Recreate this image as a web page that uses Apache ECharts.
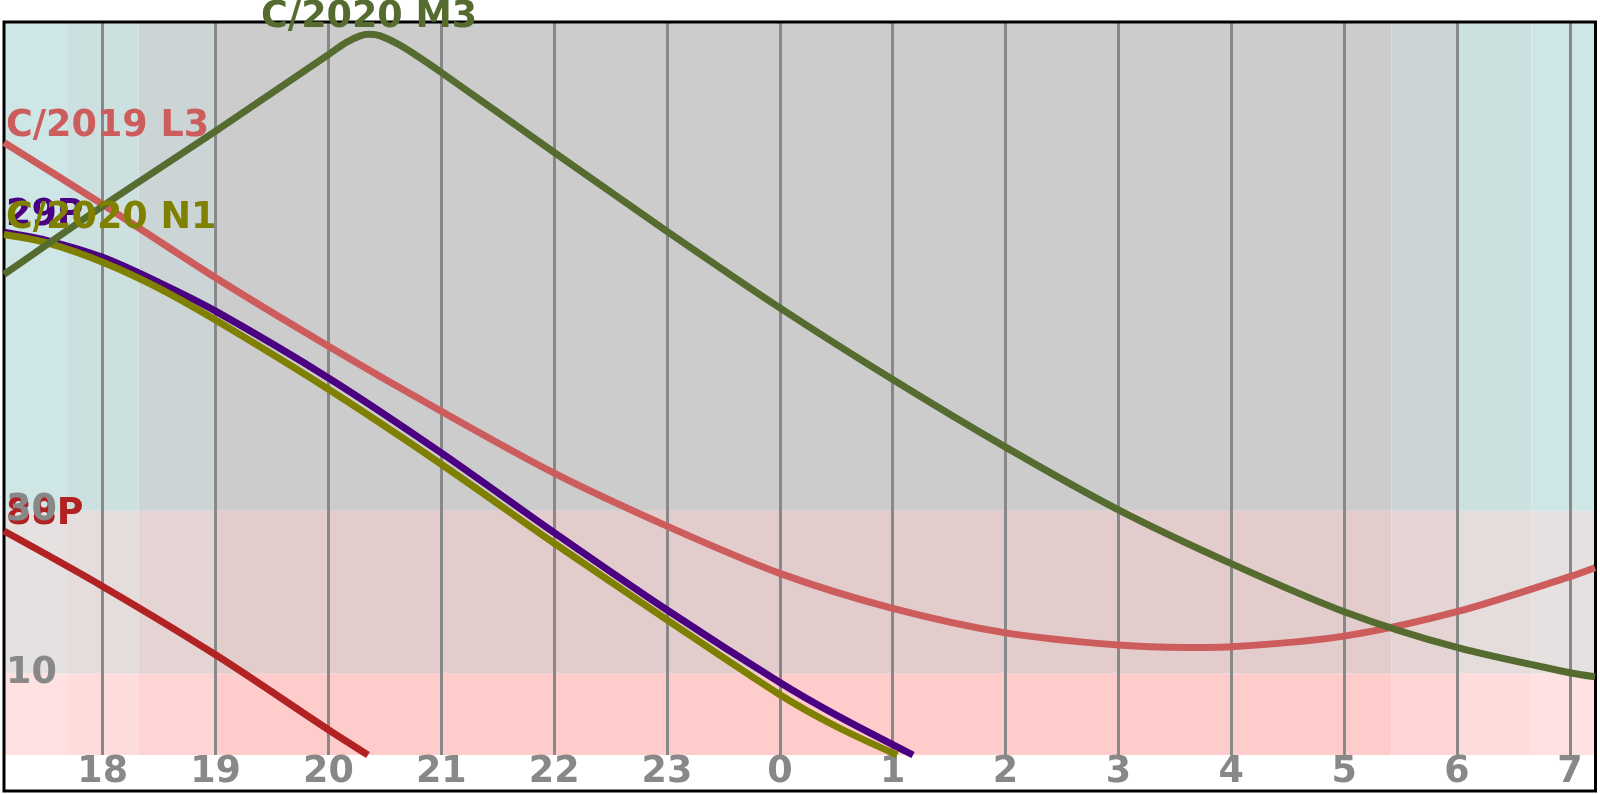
<!DOCTYPE html>
<html><head><meta charset="utf-8">
<script src="https://cdn.jsdelivr.net/npm/echarts@6/dist/echarts.min.js"></script>
<style>html,body{margin:0;padding:0;background:#fff}#c{width:1600px;height:794px}</style>
</head><body><div id="c"></div>
<script>
// ---- data ----
const hourTicks = [18,19,20,21,22,23,24,25,26,27,28,29,30,31];
const altTicks = [10, 30];
const altBands = [0, 10, 30, 90];
const twilightEdges = [17.125, 17.684, 18.316, 18.98, 29.42, 30.0, 30.66, 31.223];
const twilightLevel = [0, 1, 2, 3, 2, 1, 0];

const m3Hours = [17.125,18,19,20,20.16,20.28,20.36,20.46,20.64,21,22,23,24,25,26,27,28,29,30,31,31.223];
const m3Alt   = [59.0,67.4,76.6,86.0,87.5,88.3,88.5,88.3,87.1,83.8,74.0,64.3,54.9,46.1,37.8,30.1,23.5,17.6,13.2,10.1,9.6];

const l3Hours = [17.125,18,19,20,21,22,23,24,25,26,27,27.6,28,29,30,31,31.223];
const l3Alt   = [75.2,67.6,58.6,50.2,42.2,34.6,28.1,22.3,18.0,15.0,13.5,13.2,13.3,14.6,17.6,21.9,23.0];

const n1Hours = [17.125,17.5,18,18.5,19,20,21,22,23,24,24.5,25.04];
const n1Alt   = [63.9,62.9,60.5,57.3,53.4,44.9,35.7,26.0,16.6,7.4,3.5,0];

const p29Hours = [17.125,17.5,18,18.5,19,20,21,22,23,24,24.5,25.18];
const p29Alt   = [64.2,63.2,61.1,58.0,54.5,46.3,37.1,27.3,17.8,8.9,4.9,0];

const p88Hours = [17.125,18,19,20,20.35];
const p88Alt   = [27.5,20.7,12.3,3.1,0];

const cometNames = ['88P', '29P', 'C/2020 N1', 'C/2019 L3', 'C/2020 M3'];

// ---- styles ----
const FONT = 'DejaVu Sans';
const GRAY = '#888888';
const cometColors = ['#b22222', '#4b0082', '#808000', '#cd5c5c', '#556b2f'];
const cometHours = [p88Hours, p29Hours, n1Hours, l3Hours, m3Hours];
const cometAlt = [p88Alt, p29Alt, n1Alt, l3Alt, m3Alt];
// band colours [altitude band][twilight level]
const bandColors = [
  ['#ffe1e1', '#ffdcdc', '#ffd4d4', '#ffcccc'],
  ['#e6e1e1', '#e5dcdc', '#e4d4d4', '#e3cccc'],
  ['#cee6e6', '#cde0e0', '#ccd5d5', '#cccccc']
];

const areas = [];
for (let b = 0; b < altBands.length - 1; b++) {
  for (let s = 0; s < twilightEdges.length - 1; s++) {
    areas.push([
      {xAxis: twilightEdges[s], yAxis: altBands[b], itemStyle: {color: bandColors[b][twilightLevel[s]]}},
      {xAxis: twilightEdges[s + 1], yAxis: altBands[b + 1]}
    ]);
  }
}

const labelFont = {fontFamily: FONT, fontWeight: 'bold', fontSize: 36.5};

const series = cometNames.map((name, i) => {
  const h = cometHours[i], a = cometAlt[i];
  let maxI = 0;
  a.forEach((v, k) => { if (v > a[maxI]) maxI = k; });
  const data = h.map((x, k) => [x, a[k]]);
  const s = {
    name, type: 'line', data, smooth: 0.3, showSymbol: false, symbol: 'none',
    z: 2, clip: true,
    lineStyle: {color: cometColors[i], width: 7},
    emphasis: {disabled: true}, silent: true, animation: false,
    markPoint: {
      silent: true, z: 5, animation: false,
      symbol: 'circle', symbolSize: 0,
      data: [{
        coord: [h[maxI], a[maxI]],
        label: Object.assign({
          show: true, position: 'top', distance: -2,
          offset: maxI === 0 ? [2, 0] : [0, 0],
          align: maxI === 0 ? 'left' : 'center',
          formatter: name, color: cometColors[i]
        }, labelFont)
      }]
    }
  };
  if (i === 0) s.markArea = {silent: true, z: 1, data: areas};
  return s;
});

const chart = echarts.init(document.getElementById('c'));
chart.setOption({
  animation: false,
  grid: {left: 4, right: 5, top: 22, bottom: 39, containLabel: false},
  xAxis: {
    type: 'value', min: twilightEdges[0], max: twilightEdges[twilightEdges.length - 1], z: 1.5,
    axisLine: {show: false},
    axisTick: {show: false, customValues: hourTicks},
    splitLine: {show: true, lineStyle: {color: GRAY, width: 3}},
    axisLabel: Object.assign({customValues: hourTicks, color: GRAY, margin: -1,
      formatter: v => String(v % 24)}, labelFont)
  },
  yAxis: {
    type: 'value', min: altBands[0], max: altBands[altBands.length - 1], z: 6,
    axisLine: {show: false}, axisTick: {show: false}, splitLine: {show: false},
    axisLabel: Object.assign({customValues: altTicks, inside: true, color: GRAY, margin: 2}, labelFont)
  },
  graphic: [{
    type: 'rect', z: 1.8, silent: true,
    shape: {x: 4, y: 22, width: 1591.5, height: 769},
    style: {fill: 'none', stroke: '#000', lineWidth: 3}
  }],
  series
});
</script></body></html>
